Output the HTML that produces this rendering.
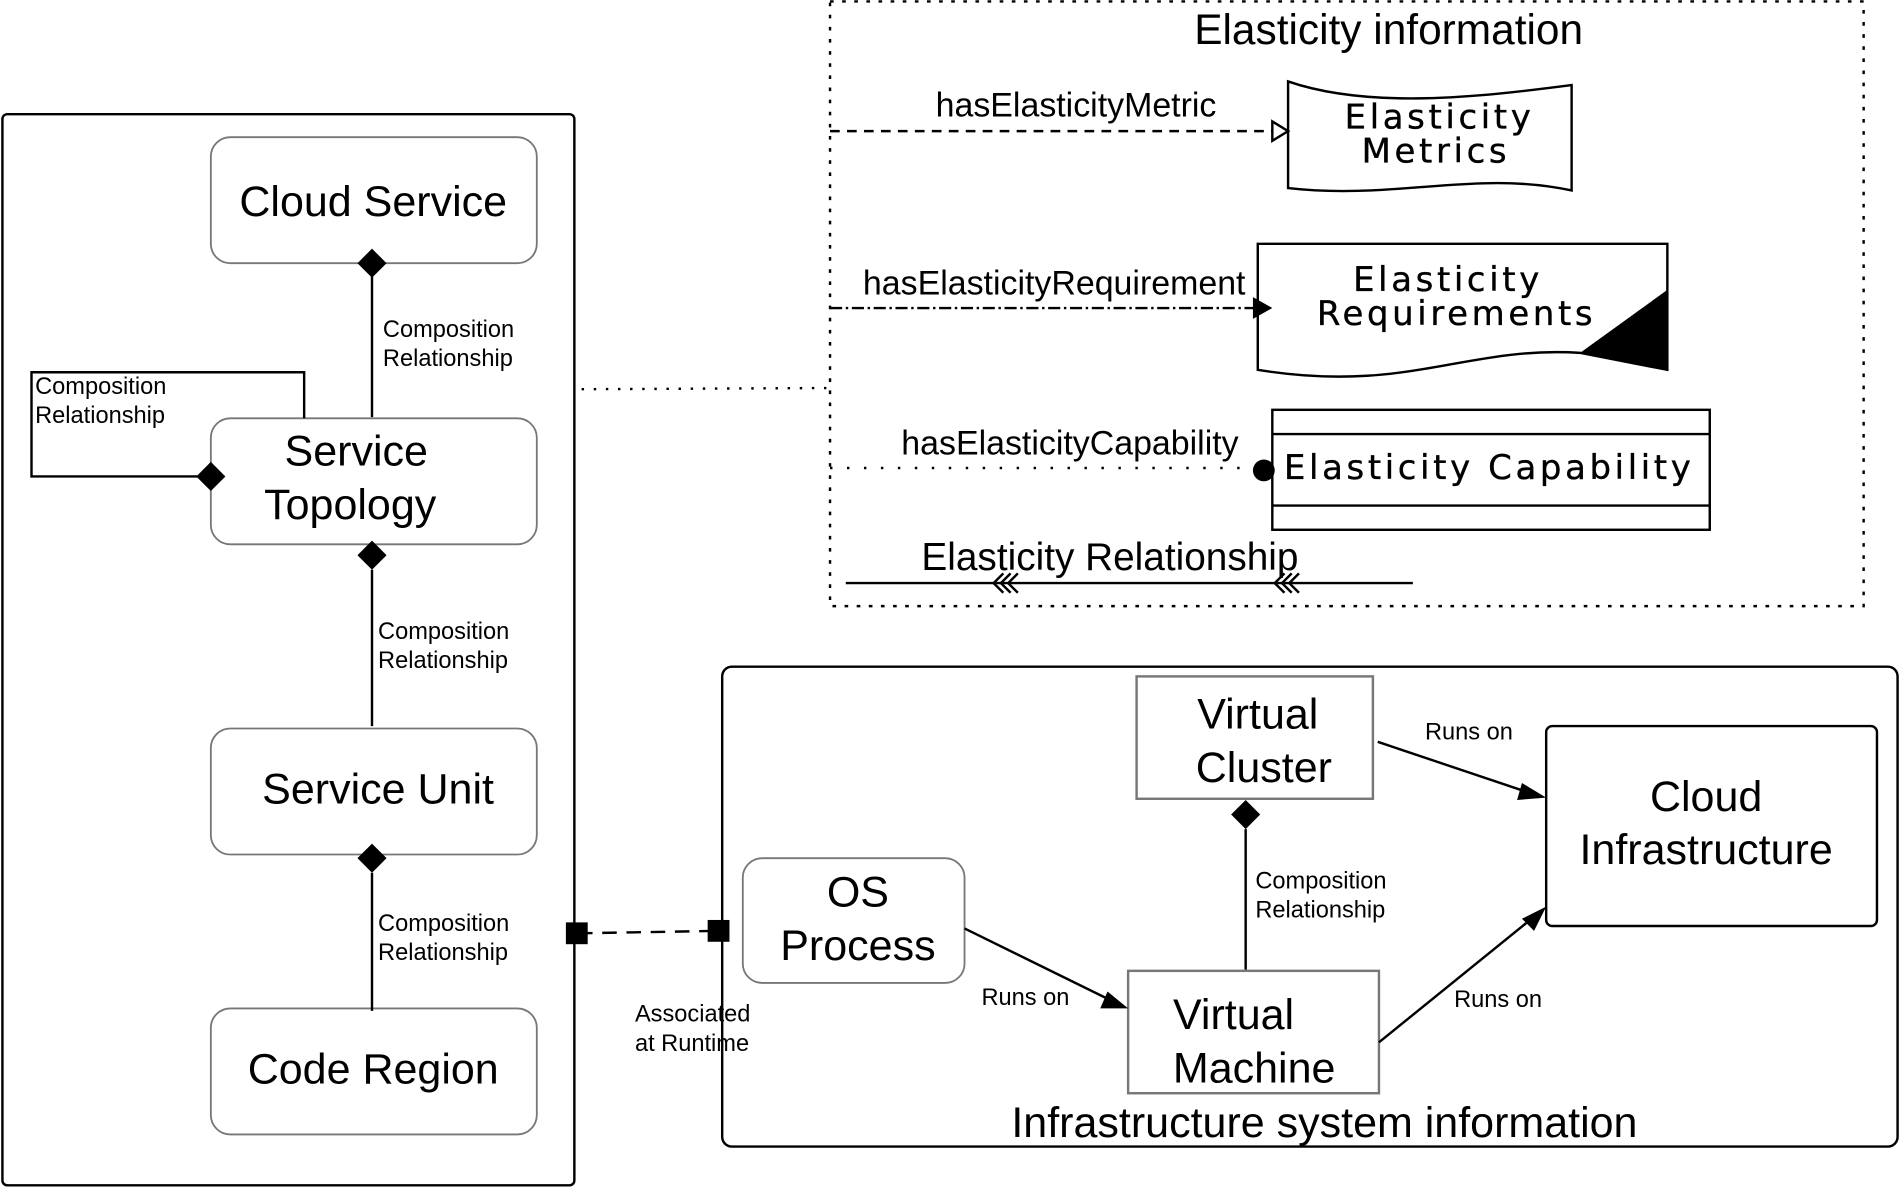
<!DOCTYPE html>
<html><head><meta charset="utf-8"><style>
html,body{margin:0;padding:0;background:#fff;}
svg{display:block;}
text{font-family:"Liberation Sans",sans-serif;fill:#000;}
.big{font-size:35.5px;}
.sm{font-size:19.5px;}
.el{font-family:"DejaVu Sans",sans-serif;font-size:28px;letter-spacing:3px;stroke:#000;stroke-width:0.3px;}
.lab{font-size:28px;}
</style></head><body>
<svg width="1900" height="1188" viewBox="0 0 1568 980" xmlns="http://www.w3.org/2000/svg">
<rect width="1568" height="980" fill="#fff"/>
<g fill="none" stroke="#000" stroke-width="2">
<rect x="2" y="94" width="472" height="884" rx="4"/>
<rect x="174" y="113" width="269" height="104" rx="16" stroke="#777" stroke-width="1.5"/>
<rect x="174" y="345" width="269" height="104" rx="16" stroke="#777" stroke-width="1.5"/>
<rect x="174" y="601" width="269" height="104" rx="16" stroke="#777" stroke-width="1.5"/>
<rect x="174" y="832" width="269" height="104" rx="16" stroke="#777" stroke-width="1.5"/>
<line x1="307" y1="228" x2="307" y2="344"/>
<line x1="307" y1="470" x2="307" y2="599"/>
<line x1="307" y1="720" x2="307" y2="834"/>
<polyline points="163,393 26,393 26,307 251,307 251,345"/>
<line x1="480" y1="321" x2="686" y2="320" stroke-dasharray="2,8"/>
<rect x="685" y="1" width="853" height="499" stroke-dasharray="3,7"/>
<line x1="685" y1="108" x2="1050" y2="108" stroke-dasharray="8,6"/>
<polygon points="1050,100 1063,108 1050,116" fill="#fff"/>
<path d="M1063,67 C1130,90 1220,80 1297,70 L1297,157 C1220,140 1150,165 1063,155 Z"/>
<line x1="685" y1="254" x2="1036" y2="254" stroke-dasharray="10,3,2,3"/>
<path d="M1038,201 L1376,201 L1376,305 L1304,291 C1210,285 1160,325 1038,305 Z"/>
<line x1="685" y1="386" x2="1035" y2="386" stroke-dasharray="2,12"/>
<rect x="1050" y="338" width="361" height="99"/>
<line x1="1050" y1="358" x2="1411" y2="358"/>
<line x1="1050" y1="417" x2="1411" y2="417"/>
<line x1="698" y1="481" x2="1166" y2="481"/>
<path d="M828,473 l-8,8 l8,8 M834,473 l-8,8 l8,8 M840,473 l-8,8 l8,8"/>
<path d="M1060,473 l-8,8 l8,8 M1066,473 l-8,8 l8,8 M1072,473 l-8,8 l8,8"/>
<rect x="596" y="550" width="970" height="396" rx="8"/>
<rect x="938" y="558" width="195" height="101" stroke="#777"/>
<rect x="1276" y="599" width="273" height="165" rx="5"/>
<rect x="613" y="708" width="183" height="103" rx="16" stroke="#777" stroke-width="1.5"/>
<rect x="931" y="801" width="207" height="101" stroke="#777"/>
<line x1="1028" y1="684" x2="1028" y2="800"/>
<line x1="1137" y1="612" x2="1262" y2="654"/>
<line x1="796" y1="766" x2="918" y2="826"/>
<line x1="1138" y1="860" x2="1264" y2="758"/>
<line x1="477" y1="770" x2="593" y2="768" stroke-dasharray="12,8"/>
</g>
<g fill="#000">
<polygon points="307,205 319,217 307,229 295,217"/>
<polygon points="307,446 319,458 307,470 295,458"/>
<polygon points="307,696 319,708 307,720 295,708"/>
<polygon points="174,381 186,393 174,405 162,393"/>
<polygon points="1028,660 1040,672 1028,684 1016,672"/>
<polygon points="1034,245 1050,254 1034,263"/>
<circle cx="1043" cy="388" r="9"/>
<polygon points="1376,239 1376,305 1304,291"/>
<polygon points="1276,658 1252,660 1256,646"/>
<polygon points="931,832 908,832 914,818"/>
<polygon points="1276,748 1266,768 1256,758"/>
<rect x="467" y="761" width="18" height="18"/>
<rect x="584" y="759" width="18" height="18"/>
</g>
<g text-anchor="middle">
<text class="big" x="308" y="178">Cloud Service</text>
<text class="big" x="294" y="384">Service</text>
<text class="big" x="289" y="428">Topology</text>
<text class="big" x="312" y="663">Service Unit</text>
<text class="big" x="308" y="894">Code Region</text>
<text style="font-size:35px" x="1146" y="36">Elasticity information</text>
<text class="el" x="1188" y="106">Elasticity</text>
<text class="el" x="1185" y="134">Metrics</text>
<text class="el" x="1195" y="240">Elasticity</text>
<text class="el" x="1202" y="268">Requirements</text>
<text class="el" x="1229" y="395">Elasticity Capability</text>
<text style="font-size:32px" x="916" y="470">Elasticity Relationship</text>
<text class="lab" x="888" y="96">hasElasticityMetric</text>
<text class="lab" x="870" y="243">hasElasticityRequirement</text>
<text class="lab" x="883" y="375">hasElasticityCapability</text>
<text class="big" x="1038" y="601">Virtual</text>
<text class="big" x="1043" y="645">Cluster</text>
<text class="big" x="1408" y="669">Cloud</text>
<text class="big" x="1408" y="713">Infrastructure</text>
<text class="big" x="708" y="748">OS</text>
<text class="big" x="708" y="792">Process</text>
<text class="big" x="1018" y="849">Virtual</text>
<text class="big" x="1035" y="893">Machine</text>
<text style="font-size:35.5px" x="1093" y="938">Infrastructure system information</text>
</g>
<g>
<text class="sm" x="316" y="278">Composition</text>
<text class="sm" x="316" y="302">Relationship</text>
<text class="sm" x="29" y="325">Composition</text>
<text class="sm" x="29" y="349">Relationship</text>
<text class="sm" x="312" y="527">Composition</text>
<text class="sm" x="312" y="551">Relationship</text>
<text class="sm" x="312" y="768">Composition</text>
<text class="sm" x="312" y="792">Relationship</text>
<text class="sm" x="1036" y="733">Composition</text>
<text class="sm" x="1036" y="757">Relationship</text>
<text class="sm" x="1176" y="610">Runs on</text>
<text class="sm" x="810" y="829">Runs on</text>
<text class="sm" x="1200" y="831">Runs on</text>
<text class="sm" x="524" y="843">Associated</text>
<text class="sm" x="524" y="867">at Runtime</text>
</g>
</svg>
</body></html>
